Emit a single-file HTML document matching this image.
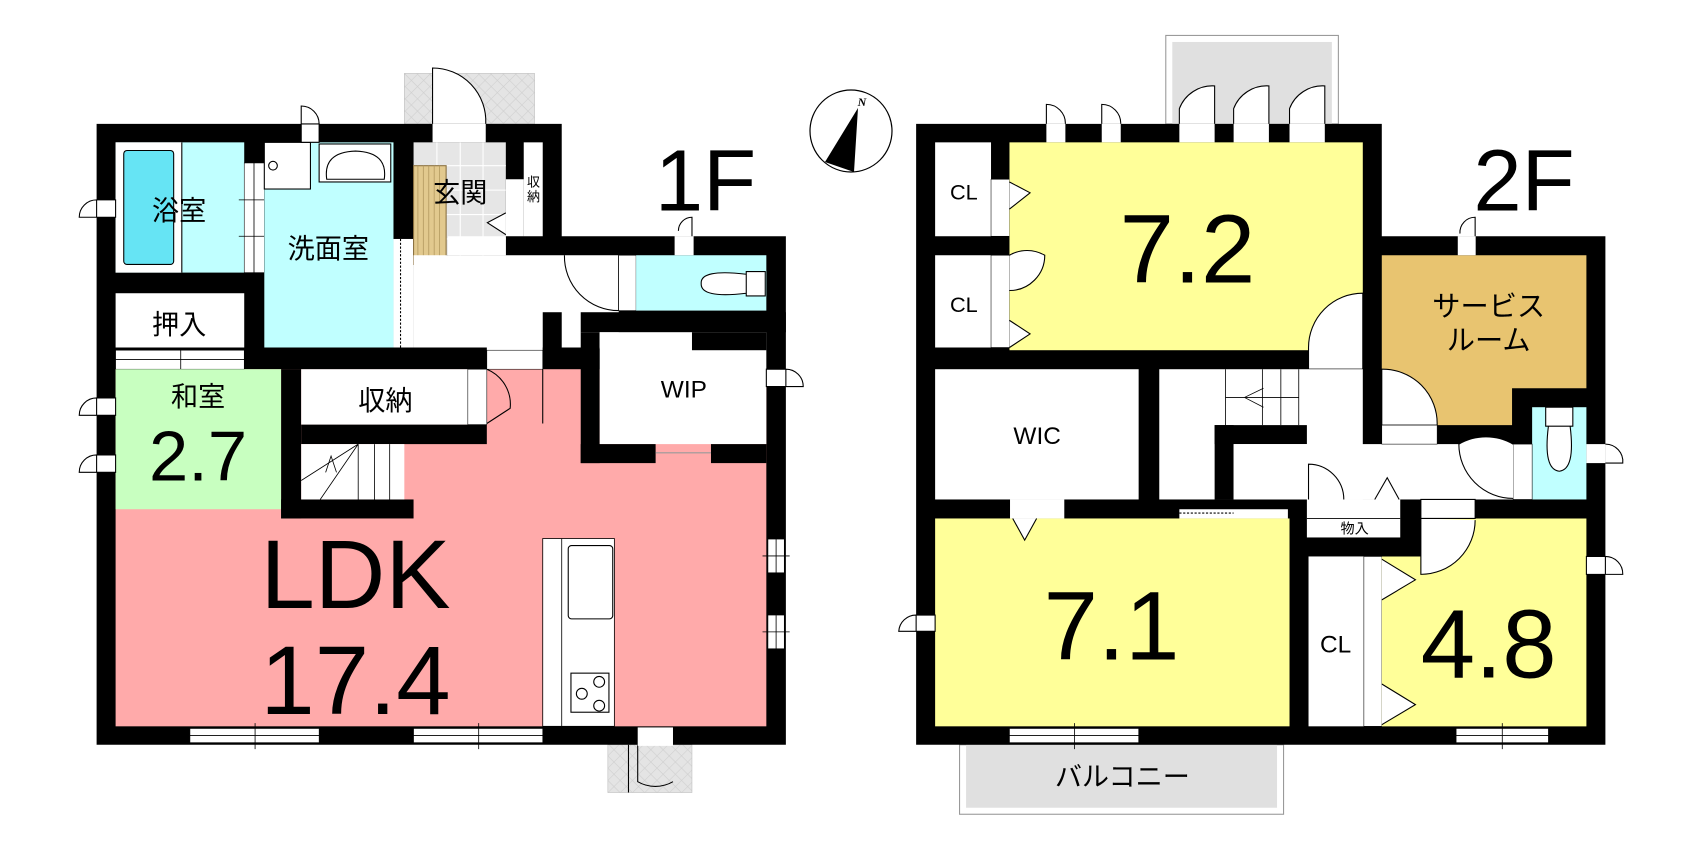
<!DOCTYPE html>
<html><head><meta charset="utf-8"><style>
html,body{margin:0;padding:0;background:#fff;width:1702px;height:841px;overflow:hidden}
svg{position:absolute;top:0}
text{font-family:"Liberation Sans","Noto Sans CJK JP",sans-serif;text-anchor:middle;fill:#000}
</style></head><body>
<svg style="left:0" width="851" height="841" viewBox="0 0 1568 1549">
<defs><pattern id="h" width="16" height="16" patternUnits="userSpaceOnUse" patternTransform="rotate(45)"><rect width="16" height="16" fill="#e4e4e4"/><path d="M0 0V16M0 0H16" stroke="#cfcfcf" stroke-width="2"/></pattern></defs>
<!-- porches -->
<rect x="745" y="135" width="240" height="93" fill="url(#h)" stroke="#bbb"/>
<path d="M797 228V125A98 98 0 0 1 895 228" fill="#fff" stroke="#000" stroke-width="2"/>
<rect x="1120" y="1372" width="155" height="88" fill="url(#h)" stroke="#bbb"/>
<path d="M1158 1372V1460M1175 1372V1440A65 65 0 0 0 1240 1440" fill="none" stroke="#000" stroke-width="2"/>
<!-- building -->
<polygon points="178,228 1035,228 1035,435 1448,435 1448,1372 178,1372" fill="#000"/>
<!-- LDK -->
<rect x="213" y="680" width="1199" height="658" fill="#ffaaaa"/>
<!-- bath -->
<rect x="213" y="262" width="237" height="240" fill="#c0ffff"/>
<rect x="213" y="262" width="122" height="240" fill="#fff"/>
<rect x="228" y="277" width="92" height="210" rx="6" fill="#66e4f4" stroke="#000" stroke-width="2"/>
<line x1="335" y1="262" x2="335" y2="502" stroke="#000" stroke-width="2"/>
<rect x="450" y="300" width="37" height="202" fill="#fff" stroke="#000" stroke-width="1"/>
<path d="M440 368H490M440 435H490M468 300V502" stroke="#000" stroke-width="1.5"/>
<!-- senmen -->
<rect x="487" y="262" width="238" height="378" fill="#c0ffff"/>
<rect x="487" y="262" width="85" height="86" fill="#fff" stroke="#000" stroke-width="2"/>
<circle cx="503" cy="305" r="8" fill="none" stroke="#000" stroke-width="2"/>
<rect x="588" y="265" width="132" height="70" fill="#fff" stroke="#000" stroke-width="2"/>
<path d="M602 330Q595 280 655 278Q715 280 708 330Z" fill="#fff" stroke="#000" stroke-width="2"/>
<rect x="725" y="440" width="37" height="200" fill="#fff"/>
<line x1="738" y1="440" x2="738" y2="640" stroke="#000" stroke-width="2" stroke-dasharray="4 3"/>
<!-- genkan -->
<rect x="762" y="262" width="170" height="208" fill="#e6e6e6"/>
<path d="M762 305H932M762 350H932M762 395H932M762 440H932M805 262V470M848 262V470M890 262V470" stroke="#fff" stroke-width="2"/>
<rect x="762" y="305" width="60" height="182" fill="#e2c98e" stroke="#8a7040" stroke-width="2"/>
<path d="M770 305V487M780 305V487M790 305V487M800 305V487M810 305V487" stroke="#b49a60" stroke-width="1.5"/>
<rect x="965" y="262" width="35" height="173" fill="#fff"/>
<rect x="932" y="330" width="33" height="105" fill="#fff"/>
<path d="M932 392L898 410L932 432" fill="#fff" stroke="#000" stroke-width="2"/>
<!-- hall -->
<rect x="762" y="470" width="378" height="170" fill="#fff"/>
<rect x="825" y="435" width="107" height="35" fill="#fff"/>
<rect x="897" y="640" width="103" height="40" fill="#fff"/>
<rect x="1000" y="575" width="35" height="70" fill="#000"/>
<rect x="1070" y="575" width="378" height="37" fill="#000"/>
<path d="M1140 470V572M1040 470A100 100 0 0 0 1140 572" fill="none" stroke="#000" stroke-width="2"/>
<!-- toilet -->
<rect x="1140" y="470" width="32" height="102" fill="#fff" stroke="#000" stroke-width="1"/>
<rect x="1172" y="470" width="240" height="102" fill="#c0ffff"/>
<path d="M1375 500H1410V545H1375ZM1375 505Q1290 495 1292 522Q1290 550 1375 540" fill="#fff" stroke="#000" stroke-width="2"/>
<rect x="1243" y="400" width="35" height="35" fill="#fff"/>
<rect x="1243" y="435" width="35" height="35" fill="#fff"/>
<path d="M1275 435V400A25 25 0 0 0 1250 425" fill="#fff" stroke="#000" stroke-width="2"/>
<!-- oshiire -->
<rect x="213" y="540" width="237" height="100" fill="#fff"/>
<rect x="213" y="645" width="237" height="35" fill="#fff" stroke="#000" stroke-width="1"/>
<path d="M213 662H450M333 640V685" stroke="#000" stroke-width="1.5"/>
<!-- washitsu -->
<rect x="213" y="680" width="305" height="258" fill="#c8ffc0"/>
<rect x="518" y="645" width="380" height="35" fill="#000"/>
<rect x="518" y="680" width="37" height="275" fill="#000"/>
<rect x="518" y="920" width="244" height="35" fill="#000"/>
<rect x="555" y="782" width="342" height="36" fill="#000"/>
<!-- shuno -->
<rect x="555" y="680" width="307" height="102" fill="#fff"/>
<rect x="862" y="680" width="35" height="102" fill="#fff" stroke="#000" stroke-width="1"/>
<path d="M897 680A70 70 0 0 1 940 752L897 780M1000 680V780" fill="none" stroke="#000" stroke-width="2"/>
<rect x="897" y="645" width="103" height="35" fill="#fff" stroke="#000" stroke-width="1"/>
<!-- stairs -->
<rect x="555" y="818" width="190" height="102" fill="#fff"/>
<path d="M660 818V920M690 818V920M718 818V920M555 885L660 818M590 920L660 818M600 870L610 840L620 870" fill="none" stroke="#000" stroke-width="1.5"/>
<!-- WIP -->
<rect x="1070" y="612" width="35" height="241" fill="#000"/>
<rect x="1105" y="612" width="307" height="206" fill="#fff"/>
<rect x="1105" y="612" width="170" height="30" fill="#fff"/>
<rect x="1275" y="612" width="137" height="33" fill="#000"/>
<rect x="1070" y="818" width="138" height="35" fill="#000"/>
<rect x="1310" y="818" width="102" height="35" fill="#000"/>
<line x1="1208" y1="834" x2="1310" y2="834" stroke="#999" stroke-width="2"/>
<path d="M1412 680H1448V712H1412ZM1448 680A32 32 0 0 1 1480 712H1448" fill="#fff" stroke="#000" stroke-width="2"/>
<!-- kitchen -->
<rect x="1000" y="992" width="132" height="346" fill="#fff" stroke="#000" stroke-width="1.5"/>
<line x1="1035" y1="992" x2="1035" y2="1338" stroke="#000" stroke-width="1.5"/>
<rect x="1047" y="1005" width="82" height="135" rx="6" fill="#fff" stroke="#000" stroke-width="2"/>
<rect x="1052" y="1240" width="70" height="72" fill="#fff" stroke="#000" stroke-width="2"/>
<circle cx="1104" cy="1256" r="10" fill="none" stroke="#000" stroke-width="2"/><circle cx="1072" cy="1278" r="10" fill="none" stroke="#000" stroke-width="2"/><circle cx="1104" cy="1300" r="10" fill="none" stroke="#000" stroke-width="2"/>
<!-- windows -->
<rect x="350" y="1342" width="238" height="26" fill="#fff" stroke="#000"/>
<rect x="762" y="1342" width="238" height="26" fill="#fff" stroke="#000"/>
<path d="M350 1355H588M470 1332V1380M762 1355H1000M882 1332V1380" stroke="#000" stroke-width="1.5"/>
<rect x="1415" y="993" width="30" height="62" fill="#fff" stroke="#000"/>
<rect x="1415" y="1133" width="30" height="62" fill="#fff" stroke="#000"/>
<path d="M1430 993V1055M1405 1024H1455M1430 1133V1195M1405 1164H1455" stroke="#000" stroke-width="1.5"/>
<rect x="1175" y="1340" width="65" height="34" fill="#fff"/>
<!-- exterior doors -->
<path d="M178 368H213V400H178ZM178 368A32 32 0 0 0 146 400H178" fill="#fff" stroke="#000" stroke-width="2"/>
<path d="M178 733H213V765H178ZM178 733A32 32 0 0 0 146 765H178" fill="#fff" stroke="#000" stroke-width="2"/>
<path d="M178 838H213V870H178ZM178 838A32 32 0 0 0 146 870H178" fill="#fff" stroke="#000" stroke-width="2"/>
<path d="M555 228H588V262H555ZM555 228V195A33 33 0 0 1 588 228" fill="#fff" stroke="#000" stroke-width="2"/>
<rect x="797" y="228" width="98" height="34" fill="#fff"/>
<!-- labels -->
<text x="330" y="405" font-size="50">浴室</text>
<text x="605" y="475" font-size="50">洗面室</text>
<text x="848" y="372" font-size="50">玄関</text>
<text x="983" y="343" font-size="24">収</text><text x="983" y="370" font-size="24">納</text>
<text x="330" y="615" font-size="50">押入</text>
<text x="365" y="748" font-size="50">和室</text>
<text x="365" y="885" font-size="130">2.7</text>
<text x="710" y="755" font-size="50">収納</text>
<text x="1260" y="732" font-size="45">WIP</text>
<text x="655" y="1120" font-size="180">LDK</text>
<text x="655" y="1315" font-size="180">17.4</text>
<text x="1300" y="388" font-size="160">1F</text>
</svg>

<svg style="left:851px" width="851" height="841" viewBox="0 0 1568 1549">
<!-- balconies -->
<rect x="580" y="65" width="318" height="163" fill="#fff" stroke="#999" stroke-width="2"/>
<rect x="592" y="77" width="294" height="151" fill="#e0e0e0"/>
<rect x="200" y="1372" width="597" height="128" fill="#fff" stroke="#999" stroke-width="2"/>
<rect x="212" y="1372" width="573" height="116" fill="#e0e0e0"/>
<path d="M605 228V200A65 65 0 0 1 670 158V228M705 228V200A65 65 0 0 1 770 158V228M808 228V200A65 65 0 0 1 873 158V228M360 228V192A35 35 0 0 1 395 228M462 228V192A35 35 0 0 1 497 228" fill="#fff" stroke="#000" stroke-width="2"/>
<!-- building -->
<polygon points="120,228 978,228 978,435 1390,435 1390,1372 120,1372" fill="#000"/>
<rect x="605" y="228" width="65" height="34" fill="#fff"/><rect x="705" y="228" width="65" height="34" fill="#fff"/><rect x="808" y="228" width="65" height="34" fill="#fff"/>
<rect x="360" y="228" width="35" height="34" fill="#fff"/><rect x="462" y="228" width="35" height="34" fill="#fff"/>
<!-- CLs -->
<rect x="155" y="262" width="103" height="173" fill="#fff"/>
<rect x="155" y="470" width="103" height="170" fill="#fff"/>
<rect x="258" y="330" width="34" height="105" fill="#fff" stroke="#000"/>
<rect x="258" y="470" width="34" height="170" fill="#fff" stroke="#000"/>
<!-- 7.2 -->
<rect x="292" y="262" width="651" height="383" fill="#ffff99"/>
<path d="M292 335L330 355L292 385M292 590L330 615L292 640M292 470A65 65 0 0 1 357 470A65 65 0 0 1 292 535" fill="#fff" stroke="#000" stroke-width="2"/>
<path d="M943 540A100 100 0 0 0 843 640V680H943Z" fill="#fff" stroke="#000" stroke-width="2"/>
<!-- WIC -->
<rect x="155" y="680" width="375" height="240" fill="#fff"/>
<!-- hall -->
<rect x="568" y="680" width="375" height="240" fill="#fff"/>
<rect x="670" y="783" width="170" height="35" fill="#000"/>
<rect x="670" y="783" width="35" height="137" fill="#000"/>
<rect x="705" y="818" width="515" height="102" fill="#fff"/>
<path d="M690 680V783M758 680V783M792 680V783M825 680V783M690 732H825M725 732L760 715M725 732L760 750" fill="none" stroke="#000" stroke-width="1.5"/>
<rect x="605" y="938" width="200" height="17" fill="#fff"/>
<line x1="605" y1="945" x2="705" y2="945" stroke="#000" stroke-dasharray="4 3" stroke-width="2"/>
<!-- service room -->
<polygon points="978,470 1355,470 1355,715 1218,715 1218,783 978,783" fill="#e8c470"/>
<path d="M978 680A100 100 0 0 1 1080 783H978Z" fill="#fff" stroke="#000" stroke-width="2"/>
<rect x="978" y="783" width="102" height="35" fill="#fff" stroke="#000"/>
<rect x="1118" y="400" width="33" height="35" fill="#fff"/><rect x="1118" y="435" width="33" height="35" fill="#fff"/>
<path d="M1150 435V400A28 28 0 0 0 1122 430" fill="#fff" stroke="#000" stroke-width="2"/>
<!-- toilet -->
<rect x="1255" y="750" width="100" height="170" fill="#c0ffff"/>
<path d="M1280 750H1330V785H1280ZM1285 785Q1275 865 1305 868Q1335 865 1325 785" fill="#fff" stroke="#000" stroke-width="2"/>
<rect x="1220" y="818" width="35" height="102" fill="#fff" stroke="#000"/>
<path d="M1220 818A100 100 0 0 0 1120 818A100 100 0 0 0 1220 918" fill="#fff" stroke="#000" stroke-width="2"/>
<rect x="1355" y="818" width="35" height="35" fill="#fff"/>
<path d="M1390 818A32 32 0 0 1 1422 853H1390" fill="#fff" stroke="#000" stroke-width="2"/>
<!-- 7.1 -->
<rect x="155" y="955" width="653" height="383" fill="#ffff99"/>
<rect x="293" y="920" width="100" height="35" fill="#fff"/>
<path d="M298 955L320 995L342 955" fill="#fff" stroke="#000" stroke-width="2"/>
<path d="M120 1133V1163H88A32 32 0 0 1 120 1133M120 1133H155V1163H120" fill="#fff" stroke="#000" stroke-width="2"/>
<!-- mono-ire -->
<rect x="840" y="920" width="172" height="70" fill="#fff"/>
<line x1="840" y1="955" x2="1012" y2="955" stroke="#000" stroke-width="1.5"/>
<path d="M843 920V855A65 65 0 0 1 908 920M965 920L988 880L1010 920" fill="#fff" stroke="#000" stroke-width="2"/>
<!-- CL & 4.8 -->
<rect x="843" y="1025" width="102" height="313" fill="#fff"/>
<rect x="945" y="1025" width="33" height="313" fill="#fff" stroke="#000"/>
<polygon points="978,1025 1050,1025 1050,955 1355,955 1355,1338 978,1338" fill="#ffff99"/>
<path d="M1050 920H1150V955H1050ZM1050 955V1058A100 100 0 0 0 1150 958" fill="#fff" stroke="#000" stroke-width="2"/>
<path d="M978 1030L1040 1068L978 1105M978 1260L1040 1298L978 1335" fill="#fff" stroke="#000" stroke-width="2"/>
<path d="M1355 1025H1390V1058H1355ZM1390 1025A32 32 0 0 1 1422 1058H1390" fill="#fff" stroke="#000" stroke-width="2"/>
<!-- windows -->
<rect x="292" y="1342" width="238" height="26" fill="#fff" stroke="#000"/>
<rect x="1115" y="1342" width="170" height="26" fill="#fff" stroke="#000"/>
<path d="M292 1355H530M412 1332V1380M1115 1355H1285M1200 1332V1380" stroke="#000" stroke-width="1.5"/>
<!-- labels -->
<text x="208" y="367" font-size="40">CL</text>
<text x="208" y="575" font-size="40">CL</text>
<text x="620" y="520" font-size="180">7.2</text>
<text x="1240" y="388" font-size="160">2F</text>
<text x="1175" y="582" font-size="52">サービス</text>
<text x="1175" y="645" font-size="52">ルーム</text>
<text x="343" y="818" font-size="45">WIC</text>
<text x="928" y="983" font-size="26">物入</text>
<text x="480" y="1215" font-size="180">7.1</text>
<text x="893" y="1202" font-size="45">CL</text>
<text x="1175" y="1248" font-size="180">4.8</text>
<text x="500" y="1448" font-size="50">バルコニー</text>
</svg>

<svg style="left:0" width="1702" height="841" viewBox="0 0 1702 841">
<circle cx="851" cy="131" r="41" fill="#fff" stroke="#000" stroke-width="1.2"/>
<polygon points="858,108 825,162 854,172" fill="#000"/>
<text x="862" y="106" font-size="12" font-style="italic" font-weight="bold" style="font-family:'Liberation Serif',serif">N</text>
</svg>
</body></html>
